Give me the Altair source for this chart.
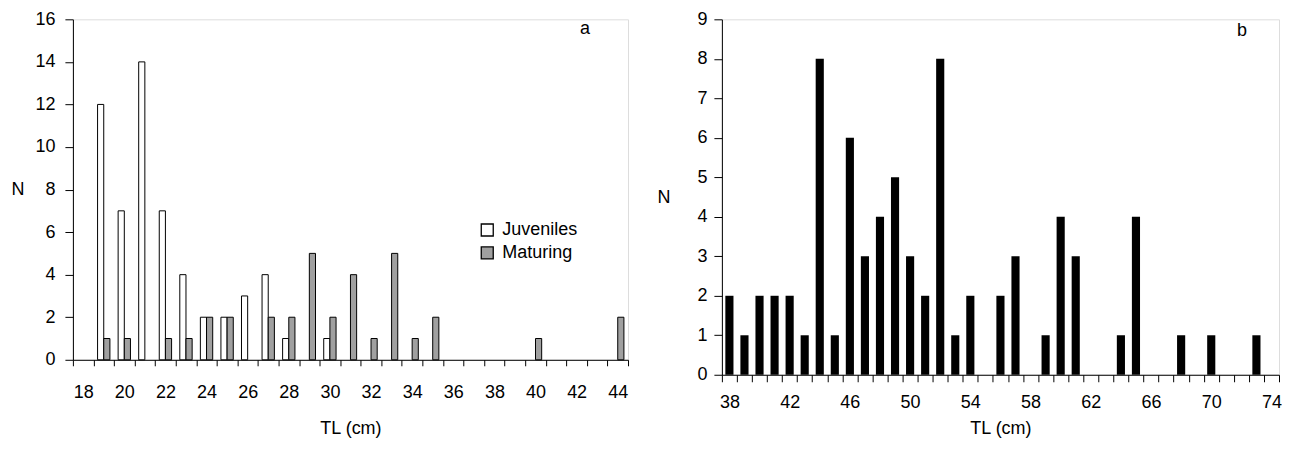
import altair as alt
import pandas as pd

FONT = "Liberation Sans"

# ---- panel a data ----
tl_a = list(range(18, 45))
juveniles = [0, 12, 7, 14, 7, 4, 2, 2, 3, 4, 1, 0, 1, 0, 0, 0, 0, 0, 0, 0, 0, 0, 0, 0, 0, 0, 0]
maturing = [0, 1, 1, 0, 1, 1, 2, 2, 0, 2, 2, 5, 2, 4, 1, 5, 1, 2, 0, 0, 0, 0, 1, 0, 0, 0, 2]
groups = ["Juveniles", "Maturing"]
colors_a = ["#ffffff", "#a0a0a0"]
labels_a = list(range(18, 45, 2))

# ---- panel b data ----
tl_b = list(range(38, 75))
counts_b = [2, 1, 2, 2, 2, 1, 8, 1, 6, 3, 4, 5, 3, 2, 8, 1, 2, 0, 2, 3, 0, 1, 4, 3, 0, 0,
            1, 4, 0, 0, 1, 0, 1, 0, 0, 1, 0]
labels_b = list(range(38, 75, 4))

df_a = pd.DataFrame(
    [{"tl": t, "group": groups[0], "n": j} for t, j in zip(tl_a, juveniles)]
    + [{"tl": t, "group": groups[1], "n": m} for t, m in zip(tl_a, maturing)]
)
df_b = pd.DataFrame({"tl": tl_b, "n": counts_b})

W_A, H_A = 556, 341
W_B, H_B = 558, 356

half_a = [t - 0.5 for t in tl_a] + [tl_a[-1] + 0.5]
half_b = [t - 0.5 for t in tl_b] + [tl_b[-1] + 0.5]

txt = dict(labelFont=FONT, titleFont=FONT, labelFontSize=18, titleFontSize=18,
           titleFontWeight="normal", labelColor="black", titleColor="black")

scale_a = alt.Scale(domain=[tl_a[0] - 0.5, tl_a[-1] + 0.5], nice=False, zero=False)
scale_b = alt.Scale(domain=[tl_b[0] - 0.5, tl_b[-1] + 0.5], nice=False, zero=False)


def y_axis(vals, tick, pad, tx, h):
    return alt.Axis(
        values=vals, title="N", grid=False, tickSize=tick, tickColor="black",
        domainColor="black", labelPadding=pad, titleAngle=0,
        titleAlign="right", titleBaseline="middle", titleX=tx, titleY=h / 2, **txt,
    )


# ---------- panel a ----------
bars_a = (
    alt.Chart(df_a)
    .transform_filter("datum.n > 0")
    .transform_calculate(
        x0="datum.group == 'Juveniles' ? datum.tl - 0.3 : datum.tl",
        x1="datum.group == 'Juveniles' ? datum.tl : datum.tl + 0.3",
    )
    .mark_bar(stroke="black", strokeWidth=1)
    .encode(
        x=alt.X("x0:Q", scale=scale_a,
                axis=alt.Axis(values=half_a, orient="bottom", labels=False, title=None,
                              grid=False, tickSize=6, tickColor="black", domainColor="black")),
        x2="x1:Q",
        y=alt.Y("n:Q", scale=alt.Scale(domain=[0, 16], nice=False),
                axis=y_axis(list(range(0, 17, 2)), 8, 10, -49, H_A)),
        y2=alt.datum(0),
        fill=alt.Fill(
            "group:N",
            scale=alt.Scale(domain=groups, range=colors_a),
            legend=alt.Legend(
                title=None, orient="none", legendX=406, legendY=202, symbolType="square",
                symbolSize=144, symbolStrokeColor="black", symbolStrokeWidth=1.3,
                labelFontSize=18, labelFont=FONT, labelColor="black", labelOffset=6,
                rowPadding=5, padding=0,
            ),
        ),
    )
)
axis_a = (
    alt.Chart(pd.DataFrame({"tl": labels_a}))
    .mark_point(opacity=0)
    .encode(
        x=alt.X("tl:Q", scale=scale_a,
                axis=alt.Axis(values=labels_a, orient="bottom", title="TL (cm)", grid=False,
                              ticks=False, domain=False, labelPadding=24, titlePadding=18,
                              labelFlush=False, labelOverlap=False, format="d", **txt)),
    )
)
label_a = alt.Chart(pd.DataFrame({"t": ["a"]})).mark_text(
    fontSize=18, font=FONT, color="black"
).encode(x=alt.value(513), y=alt.value(10), text="t:N")

panel_a = (
    alt.layer(bars_a, axis_a, label_a)
    .resolve_axis(x="independent")
    .properties(width=W_A, height=H_A)
)

# ---------- panel b ----------
bars_b = (
    alt.Chart(df_b)
    .transform_filter("datum.n > 0")
    .transform_calculate(x0="datum.tl - 0.27", x1="datum.tl + 0.27")
    .mark_bar(color="black")
    .encode(
        x=alt.X("x0:Q", scale=scale_b,
                axis=alt.Axis(values=half_b, orient="bottom", labels=False, title=None,
                              grid=False, tickSize=7, tickColor="black", domainColor="black")),
        x2="x1:Q",
        y=alt.Y("n:Q", scale=alt.Scale(domain=[0, 9], nice=False),
                axis=y_axis(list(range(0, 10)), 8, 7, -52, H_B)),
        y2=alt.datum(0),
    )
)
axis_b = (
    alt.Chart(pd.DataFrame({"tl": labels_b}))
    .mark_point(opacity=0)
    .encode(
        x=alt.X("tl:Q", scale=scale_b,
                axis=alt.Axis(values=labels_b, orient="bottom", title="TL (cm)", grid=False,
                              ticks=False, domain=False, labelPadding=19, titlePadding=8,
                              labelFlush=False, labelOverlap=False, format="d", **txt)),
    )
)
label_b = alt.Chart(pd.DataFrame({"t": ["b"]})).mark_text(
    fontSize=18, font=FONT, color="black"
).encode(x=alt.value(521), y=alt.value(12), text="t:N")

panel_b = (
    alt.layer(bars_b, axis_b, label_b)
    .resolve_axis(x="independent")
    .properties(width=W_B, height=H_B)
)

chart = (
    alt.hconcat(panel_a, panel_b, spacing=27)
    .properties(padding={"left": 2, "top": 1, "right": 0, "bottom": 0})
    .configure_view(stroke=None)
    .configure(background="white")
)

chart.save("out.html", embed_options={"renderer": "svg", "actions": False})
